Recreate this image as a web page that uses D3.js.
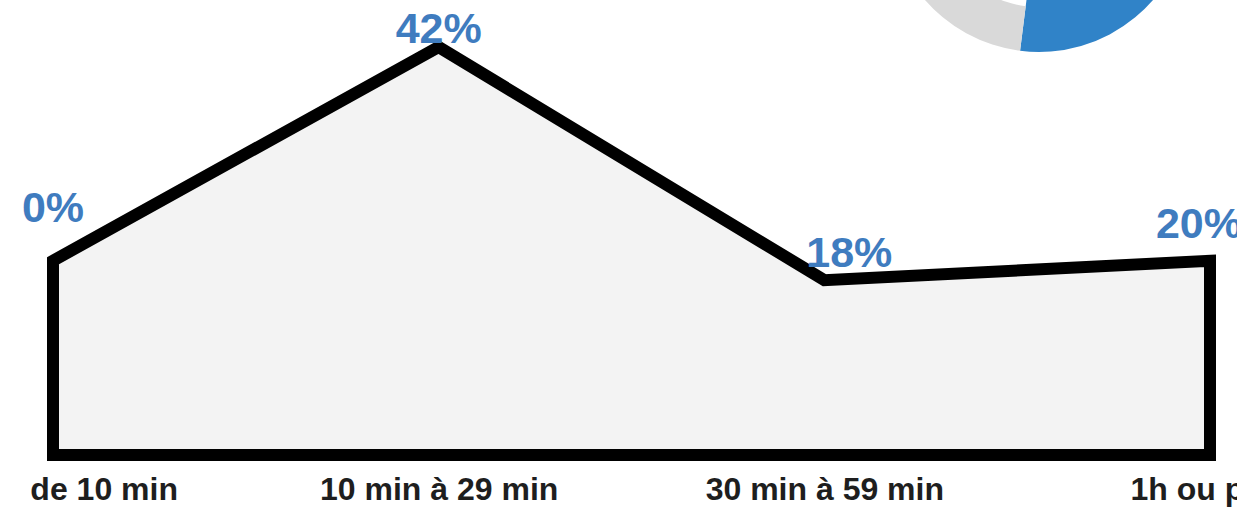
<!DOCTYPE html>
<html><head><meta charset="utf-8">
<script src="https://cdn.jsdelivr.net/npm/d3@7/dist/d3.min.js"></script>
<style>html,body{margin:0;padding:0;background:#fff;overflow:hidden}</style>
</head><body>
<svg id="c" width="1255" height="512"></svg>
<script>
const categories = ["Moins de 10 min", "10 min à 29 min", "30 min à 59 min", "1h ou plus"];
const values = [20, 42, 18, 20];
const valueLabels = ["20%", "42%", "18%", "20%"];
const donutLabels = ["Oui", "Non"];
const donutValues = [52, 48];

const svg = d3.select("#c");
svg.append("rect").attr("width",1255).attr("height",512).attr("fill","#fff");
svg.append("defs").append("clipPath").attr("id","clip")
  .append("rect").attr("x",23).attr("y",0).attr("width",1214).attr("height",512);
const root = svg.append("g").attr("clip-path","url(#clip)");

// donut (partially visible)
const dcx = 1039, dcy = -99;
const pie = d3.pie().sort(null).value(d => d)(donutValues);
const donutColors = ["#3083c8", "#d9d9d9"];
const innerR = [96, 106];
const dg = root.append("g").attr("transform", `translate(${dcx},${dcy})`);
dg.selectAll("path").data(pie).join("path")
  .attr("d", (d,i) => d3.arc().innerRadius(innerR[i]).outerRadius(151)(d))
  .attr("fill", (d,i) => donutColors[i]);

// area chart
const x = d3.scalePoint().domain(categories).range([53, 1210]);
const y = d3.scaleLinear().domain([0, 42]).range([455, 47]);

const pts = categories.map((c,i) => [x(c), y(values[i])]);
const outline = [[x(categories[0]), y(0)], ...pts, [x(categories[categories.length-1]), y(0)]];
root.append("path")
  .attr("d", d3.line()(outline) + "Z")
  .attr("fill", "#f3f3f3")
  .attr("stroke", "#000")
  .attr("stroke-width", 12)
  .attr("stroke-linejoin", "miter")
  .attr("stroke-miterlimit", 10);

// value labels
const labelOffset = [[-12,-39],[0,-4],[25,-13],[-11,-23]];
root.selectAll("text.val").data(values).join("text")
  .attr("class","val")
  .attr("x", (d,i) => x(categories[i]) + labelOffset[i][0])
  .attr("y", (d,i) => y(d) + labelOffset[i][1])
  .attr("text-anchor","middle")
  .attr("font-family","'Liberation Sans', Arial, sans-serif")
  .attr("font-weight","bold")
  .attr("font-size", 43)
  .attr("fill","#3f7cbf")
  .text((d,i) => valueLabels[i]);

// x axis labels
const xAxis = d3.axisBottom(x).tickSize(0).tickPadding(0);
const ax = root.append("g").attr("transform","translate(0,477)").call(xAxis);
ax.select(".domain").remove();
ax.selectAll("text")
  .attr("dy","0.71em")
  .attr("font-family","'Liberation Sans', Arial, sans-serif")
  .attr("font-weight","bold")
  .attr("font-size", 32)
  .attr("fill","#1e1e1e");
</script>
</body></html>
